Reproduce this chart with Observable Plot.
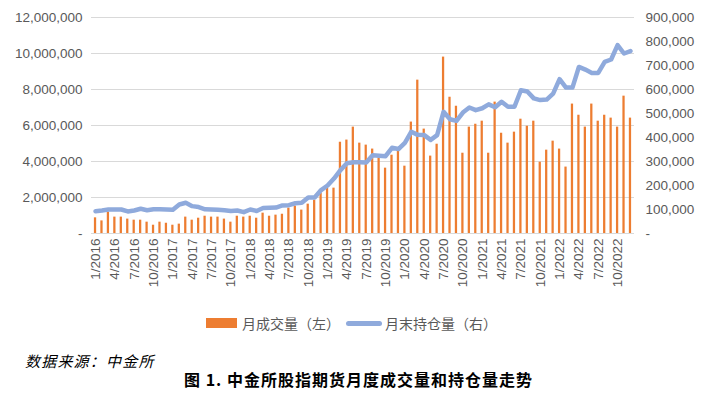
<!DOCTYPE html>
<html><head><meta charset="utf-8">
<script src="https://cdn.jsdelivr.net/npm/d3@7"></script>
<script src="https://cdn.jsdelivr.net/npm/@observablehq/plot@0.6"></script>
<style>
body{margin:0;background:#fff;width:711px;height:398px;position:relative;overflow:hidden;font-family:"Liberation Sans",Arial,sans-serif}
#chart{position:absolute;left:0;top:0}
.lg{position:absolute;top:314px;font-family:"Noto Sans CJK SC",sans-serif;font-size:14px;color:#595959;line-height:18px;white-space:nowrap}
#sw1{position:absolute;left:206px;top:318px;width:31px;height:10px;background:#ED7D31}
#sw2{position:absolute;left:346px;top:321px;width:36px;height:5px;border-radius:3px;background:#8FAADC}
#source{position:absolute;left:25px;top:350px;font-family:"Noto Sans CJK SC",sans-serif;font-style:italic;font-size:15px;letter-spacing:1.2px;color:#000;white-space:nowrap}
#title{position:absolute;left:184px;top:368px;font-family:"Noto Sans CJK SC",sans-serif;font-weight:700;font-size:16px;letter-spacing:1px;line-height:23px;color:#000;white-space:nowrap}
</style></head><body>
<div id="chart"></div>
<div id="sw1"></div><div class="lg" style="left:242px">月成交量（左）</div>
<div id="sw2"></div><div class="lg" style="left:385px">月末持仓量（右）</div>
<div id="source">数据来源：中金所</div>
<div id="title">图 1. 中金所股指期货月度成交量和持仓量走势</div>
<script>
const years = [2016, 2017, 2018, 2019, 2020, 2021, 2022];
const months = years.flatMap(y => d3.range(1, 13).map(m => `${m}/${y}`));
const xTickLabels = months.filter((m, i) => i % 3 === 0);

// 月成交量（左）
const volume = [
  870000, 700000, 1190000, 910000, 910000, 800000, 740000, 740000, 630000, 460000, 630000, 570000,
  460000, 520000, 910000, 740000, 850000, 960000, 910000, 910000, 800000, 630000, 960000, 910000,
  960000, 850000, 1130000, 960000, 1020000, 1070000, 1410000, 1520000, 1300000, 1630000, 1850000, 2240000,
  2520000, 2520000, 5070000, 5190000, 5910000, 5020000, 4910000, 4690000, 4190000, 3630000, 4350000, 4570000,
  3740000, 6190000, 8520000, 5800000, 4300000, 4960000, 9800000, 7570000, 7070000, 4460000, 5910000, 6070000,
  6240000, 4460000, 7300000, 5570000, 5020000, 5630000, 6350000, 5960000, 6240000, 3960000, 4630000, 5130000,
  4690000, 3690000, 7190000, 6570000, 5910000, 7190000, 6240000, 6570000, 6410000, 5910000, 7630000, 6410000
];
// 月末持仓量（右）
const openInterest = [
  93000, 96000, 100000, 100000, 100000, 92000, 96000, 103000, 97000, 101000, 101000, 100000,
  99000, 121000, 128000, 114000, 110000, 101000, 100000, 99000, 97000, 94000, 96000, 89000,
  100000, 94000, 106000, 107000, 108000, 117000, 118000, 126000, 128000, 150000, 150000, 181000,
  200000, 229000, 264000, 293000, 297000, 297000, 296000, 326000, 324000, 322000, 357000, 352000,
  378000, 424000, 411000, 410000, 390000, 410000, 507000, 476000, 469000, 504000, 525000, 514000,
  522000, 538000, 526000, 549000, 528000, 528000, 597000, 592000, 563000, 556000, 558000, 583000,
  643000, 608000, 608000, 694000, 683000, 669000, 669000, 715000, 725000, 785000, 750000, 760000
];
const leftTicks = [0, 2000000, 4000000, 6000000, 8000000, 10000000, 12000000];
const rightTicks = [0, 100000, 200000, 300000, 400000, 500000, 600000, 700000, 800000, 900000];

const ratio = 12000000 / 900000;
const table = months.map((m, i) => ({month: m, volume: volume[i], oi: openInterest[i]}));
const fmt = d3.format(",");
const fmtL = d => d === 0 ? "-" : fmt(d);
const fmtR = d => { const v = Math.round(d / ratio); return v === 0 ? "-" : fmt(v); };

const chart = Plot.plot({
  width: 711, height: 300,
  marginLeft: 91, marginRight: 77, marginTop: 17, marginBottom: 67,
  style: {fontSize: "13.5px", fontFamily: "'Liberation Sans', Arial, sans-serif", color: "#595959", background: "#fff"},
  x: {type: "band", domain: months, paddingInner: 0.65, paddingOuter: 0.45},
  y: {domain: [0, 12000000]},
  marks: [
    Plot.gridY(leftTicks, {stroke: "#d9d9d9", strokeOpacity: 1, strokeWidth: 1}),
    Plot.barY(table, {x: "month", y: "volume", fill: "#ED7D31"}),
    Plot.lineY(table, {x: "month", y: d => d.oi * ratio, stroke: "#8FAADC", strokeWidth: 4.5, strokeLinejoin: "round"}),
    Plot.axisY(leftTicks, {anchor: "left", tickSize: 0, tickPadding: 9, tickFormat: fmtL, label: null}),
    Plot.axisY(rightTicks.map(v => v * ratio), {anchor: "right", tickSize: 0, tickPadding: 11, tickFormat: fmtR, label: null}),
    Plot.axisX(xTickLabels, {tickRotate: -90, tickSize: 0, tickPadding: 5, label: null})
  ]
});
document.getElementById("chart").appendChild(chart);
</script>
</body></html>
